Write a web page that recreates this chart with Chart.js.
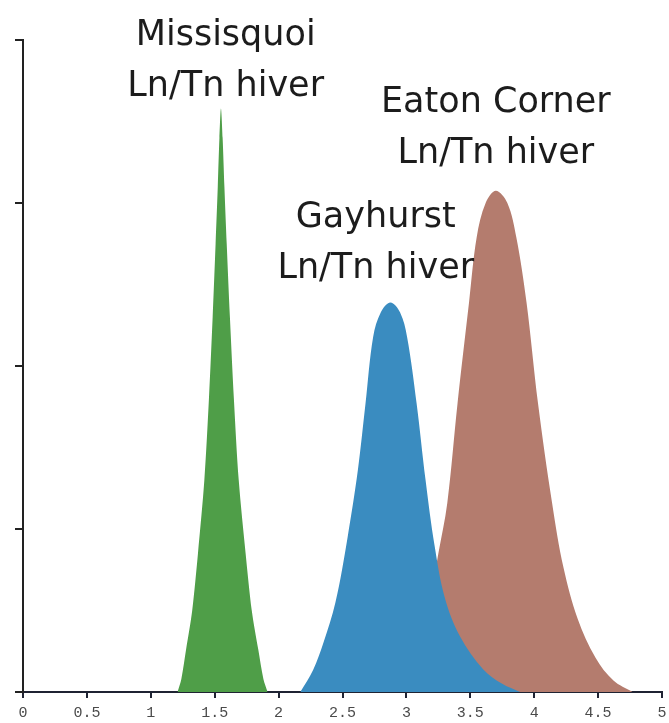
<!DOCTYPE html>
<html>
<head>
<meta charset="utf-8">
<script src="https://cdn.jsdelivr.net/npm/chart.js@4.4.1/dist/chart.umd.min.js"></script>
<style>
    html, body { margin: 0; padding: 0; background: #ffffff; }
    #wrap { width: 669px; height: 723px; position: relative; }
</style>
</head>
<body>
<div id="wrap"><canvas id="myChart"></canvas></div>
<script>
// x ticks every 0.5 from 0 to 5
const xTicks = [0, 0.5, 1, 1.5, 2, 2.5, 3, 3.5, 4, 4.5, 5];

// Missisquoi Ln/Tn hiver
const missX = [1.209, 1.239, 1.276, 1.324, 1.369, 1.419, 1.455, 1.484, 1.507, 1.524, 1.537, 1.549,
               1.562, 1.576, 1.594, 1.619, 1.650, 1.688, 1.742, 1.790, 1.841, 1.881, 1.914];
const missY = [0, 0.08, 0.26, 0.5, 0.85, 1.3, 1.8, 2.3, 2.75, 3.1, 3.4, 3.58,
               3.4, 3.1, 2.75, 2.3, 1.8, 1.3, 0.85, 0.5, 0.26, 0.08, 0];

// Gayhurst Ln/Tn hiver
const gayX = [2.17, 2.27, 2.35, 2.445, 2.54, 2.62, 2.68, 2.74, 2.80, 2.875, 2.95, 3.005, 3.08, 3.15, 3.22, 3.30, 3.42, 3.60, 3.75, 3.89];
const gayY = [0, 0.135, 0.30, 0.55, 0.95, 1.36, 1.77, 2.18, 2.33, 2.39, 2.33, 2.18, 1.77, 1.30, 0.90, 0.58, 0.34, 0.14, 0.05, 0];

// Eaton Corner Ln/Tn hiver
const eatonX = [2.95, 3.08, 3.17, 3.25, 3.32, 3.40, 3.49, 3.55, 3.62, 3.70, 3.79, 3.86, 3.94, 4.03, 4.14, 4.23, 4.34, 4.48, 4.62, 4.77];
const eatonY = [0, 0.2, 0.5, 0.85, 1.16, 1.77, 2.39, 2.79, 3.0, 3.075, 3.0, 2.79, 2.39, 1.77, 1.16, 0.76, 0.45, 0.21, 0.07, 0];

// annotation text: lines, x center, y of first baseline
const labels = [
    { lines: ['Missisquoi', 'Ln/Tn hiver'], x: 1.586, y: 3.97 },
    { lines: ['Eaton Corner', 'Ln/Tn hiver'], x: 3.70, y: 3.56 },
    { lines: ['Gayhurst', 'Ln/Tn hiver'], x: 2.76, y: 2.85 },
];

function toPoints(xs, ys) {
    return xs.map((x, i) => ({ x: x, y: ys[i] }));
}

const axisColor = '#1f2333';

/**
 * Writes the station names next to their curves.
 */
const peakLabels = {
    id: 'peakLabels',
    afterDatasetsDraw(chart) {
        const ctx = chart.ctx;
        const xs = chart.scales.x;
        const ys = chart.scales.y;
        ctx.save();
        ctx.font = '35px "DejaVu Sans"';
        ctx.fillStyle = '#1c1c1c';
        ctx.textAlign = 'center';
        ctx.textBaseline = 'alphabetic';
        labels.forEach(l => {
            const px = xs.getPixelForValue(l.x);
            const py = ys.getPixelForValue(l.y);
            l.lines.forEach((t, i) => ctx.fillText(t, px, py + i * 51));
        });
        ctx.restore();
    }
};

const ctx = document.getElementById('myChart').getContext('2d');
new Chart(ctx, {
    type: 'line',
    data: {
        datasets: [
            {
                label: 'Gayhurst',
                data: toPoints(gayX, gayY),
                backgroundColor: '#3a8cc0',
                borderWidth: 0,
                pointRadius: 0,
                fill: 'origin',
                tension: 0.35,
            },
            {
                label: 'Eaton Corner',
                data: toPoints(eatonX, eatonY),
                backgroundColor: '#b47c6e',
                borderWidth: 0,
                pointRadius: 0,
                fill: 'origin',
                tension: 0.35,
            },
            {
                label: 'Missisquoi',
                data: toPoints(missX, missY),
                backgroundColor: '#4f9e48',
                borderWidth: 0,
                pointRadius: 0,
                fill: 'origin',
                tension: 0.3,
            },
        ],
    },
    options: {
        responsive: true,
        maintainAspectRatio: false,
        animation: false,
        layout: { padding: { top: 40, right: 7, left: 0, bottom: 0 } },
        scales: {
            x: {
                type: 'linear',
                min: 0,
                max: 5,
                afterFit: s => {
                    s.height = 31;
                    s.paddingLeft = 0;
                    s.paddingRight = 0;
                },
                afterBuildTicks: s => { s.ticks = xTicks.map(v => ({ value: v })); },
                border: { display: true, color: axisColor, width: 2 },
                grid: { drawOnChartArea: false, drawTicks: true, tickLength: 6, color: axisColor, lineWidth: 2 },
                ticks: {
                    padding: 6,
                    maxRotation: 0,
                    autoSkip: false,
                    color: '#4a4a4a',
                    font: { family: '"Liberation Mono"', size: 15 },
                    callback: v => String(v),
                },
            },
            y: {
                min: 0,
                max: 4,
                afterFit: s => { s.width = 23; },
                border: { display: true, color: '#222222', width: 2 },
                grid: { drawOnChartArea: false, drawTicks: true, tickLength: 8, color: '#222222', lineWidth: 2 },
                ticks: { stepSize: 1, callback: () => '' },
            },
        },
        plugins: {
            legend: { display: false },
            tooltip: { enabled: false },
        },
    },
    plugins: [peakLabels],
});
</script>
</body>
</html>
